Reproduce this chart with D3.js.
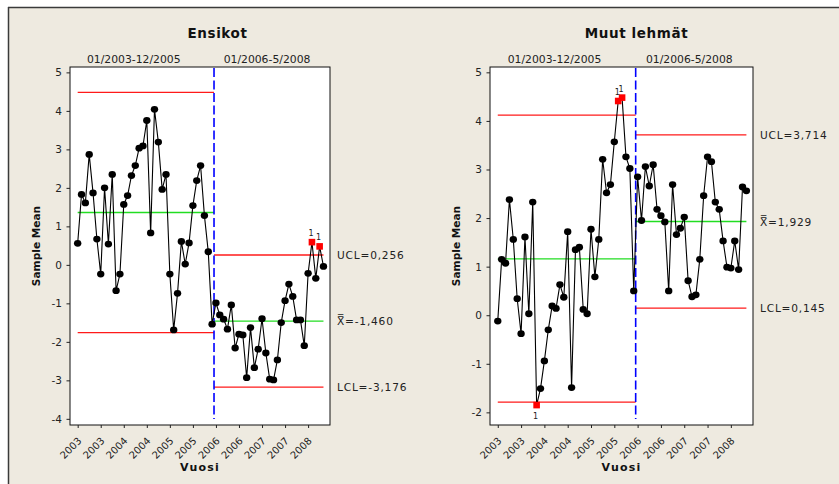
<!DOCTYPE html>
<html><head><meta charset="utf-8">
<script src="https://cdn.jsdelivr.net/npm/d3@7"></script>
<style>body{margin:0;background:#fff}svg{display:block}text{font-family:"DejaVu Sans",Verdana,sans-serif}</style>
</head><body>
<svg id="c" width="839" height="484"></svg>
<script>
// ---- data ----
const tickIndex = [0, 6, 12, 18, 24, 30, 36, 42, 48, 54, 60];
const tickLabels = ["2003","2003","2004","2004","2005","2005","2006","2006","2007","2007","2008"];
const stageLabels = ["01/2003-12/2005", "01/2006-5/2008"];
const stageSplit = 35.5;

const ensikot = [0.56,1.83,1.61,2.87,1.87,0.67,-0.24,2.00,0.54,2.35,-0.67,-0.24,1.57,1.80,2.32,2.58,3.03,3.09,3.75,0.83,4.04,3.19,1.96,2.35,-0.24,-1.69,-0.74,0.61,0.02,0.57,1.54,2.19,2.58,1.28,0.34,-1.54,
  -0.99,-1.30,-1.41,-1.67,-1.04,-2.16,-1.80,-1.82,-2.93,-1.63,-2.67,-2.19,-1.40,-2.29,-2.97,-2.99,-2.47,-1.50,-0.93,-0.50,-0.82,-1.43,-1.43,-2.10,-0.22,0.59,-0.35,0.48,-0.04];
const ensikotFlags = [61, 63];
const ensikotUCL = [4.48, 0.256];
const ensikotCL = [1.36, -1.460];
const ensikotLCL = [-1.76, -3.176];
const ensikotText = ["UCL=0,256", "X\u033F=-1,460", "LCL=-3,176"];
const ensikotYTicks = [-4,-3,-2,-1,0,1,2,3,4,5];

const muut = [-0.12,1.15,1.07,2.38,1.56,0.34,-0.38,1.61,0.03,2.33,-1.85,-1.51,-0.94,-0.30,0.19,0.14,0.63,0.37,1.72,-1.49,1.35,1.40,0.12,0.03,1.77,0.79,1.56,3.21,2.52,2.69,3.57,4.41,4.48,3.26,3.02,0.50,
  2.85,1.95,3.06,2.66,3.10,2.18,2.05,1.92,0.50,2.69,1.66,1.79,2.02,0.71,0.38,0.42,1.15,2.46,3.26,3.16,2.33,2.18,1.53,0.99,0.97,1.53,0.94,2.64,2.56];
const muutFlags = [10, 31, 32];
const muutUCL = [4.12, 3.714];
const muutCL = [1.16, 1.929];
const muutLCL = [-1.79, 0.145];
const muutText = ["UCL=3,714", "X\u033F=1,929", "LCL=0,145"];
const muutYTicks = [-2,-1,0,1,2,3,4,5];

// ---- layout ----
const panels = [
  {title:"Ensikot", values:ensikot, flags:ensikotFlags, ucl:ensikotUCL, cl:ensikotCL, lcl:ensikotLCL, text:ensikotText, yTicks:ensikotYTicks,
   x0:70, x1:330, yDomain:[-4.16, 5.14], titleX:217.5, ylabX:36},
  {title:"Muut lehmät", values:muut, flags:muutFlags, ucl:muutUCL, cl:muutCL, lcl:muutLCL, text:muutText, yTicks:muutYTicks,
   x0:490, x1:753, yDomain:[-2.26, 5.11], titleX:636.5, ylabX:456}
];
const plotTop = 67, plotBottom = 425;
const bg = "#EEEAE0";

const svg = d3.select("#c");
svg.append("rect").attr("x",8).attr("y",7.5).attr("width",831).attr("height",477).attr("fill",bg);
svg.append("line").attr("x1",8).attr("x2",839).attr("y1",7.5).attr("y2",7.5).attr("stroke","#3a3a3a").attr("stroke-width",1.5);
svg.append("line").attr("x1",8.5).attr("x2",8.5).attr("y1",7).attr("y2",484).attr("stroke","#3a3a3a").attr("stroke-width",1.5);

panels.forEach(p => {
  const g = svg.append("g");
  const x = d3.scaleLinear().domain([-2, 65.7]).range([p.x0, p.x1]);
  const y = d3.scaleLinear().domain(p.yDomain).range([plotBottom, plotTop]);
  const n = p.values.length - 1;

  g.append("rect").attr("x",p.x0).attr("y",plotTop).attr("width",p.x1-p.x0).attr("height",plotBottom-plotTop)
    .attr("fill","#fff").attr("stroke","#111").attr("stroke-width",1);

  const stages = [[0, stageSplit], [stageSplit, n]];
  stages.forEach((s, i) => {
    [[p.ucl[i],"#ff1a1a"],[p.lcl[i],"#ff1a1a"],[p.cl[i],"#22dd22"]].forEach(([v,c]) => {
      g.append("line").attr("x1",x(s[0])).attr("x2",x(s[1])).attr("y1",y(v)).attr("y2",y(v))
        .attr("stroke",c).attr("stroke-width",1.3);
    });
  });

  g.append("line").attr("x1",x(stageSplit)).attr("x2",x(stageSplit)).attr("y1",plotTop+1).attr("y2",plotBottom-6)
    .attr("stroke","#0000ff").attr("stroke-width",1.6).attr("stroke-dasharray","9,3.5");

  const line = d3.line().x((d,i)=>x(i)).y(d=>y(d));
  g.append("path").datum(p.values).attr("d",line).attr("fill","none").attr("stroke","#000").attr("stroke-width",1.1);

  g.selectAll("ellipse.pt").data(p.values.map((v,i)=>({v,i})).filter(d=>!p.flags.includes(d.i)))
    .join("ellipse").attr("class","pt").attr("cx",d=>x(d.i)).attr("cy",d=>y(d.v)).attr("rx",3.7).attr("ry",3.4).attr("fill","#000");
  const flagged = p.flags.map(i=>({i, v:p.values[i]}));
  g.selectAll("rect.fl").data(flagged).join("rect").attr("class","fl")
    .attr("x",d=>x(d.i)-3.3).attr("y",d=>y(d.v)-3.3).attr("width",6.6).attr("height",6.6).attr("fill","#ff0000");
  g.selectAll("text.fl").data(flagged).join("text").attr("class","fl")
    .attr("x",d=>x(d.i)-1).attr("y",d=>d.v > p.cl[d.i < stageSplit ? 0 : 1] ? y(d.v)-6 : y(d.v)+14)
    .attr("text-anchor","middle").attr("font-size",8).attr("fill","#222").text("1");

  const ya = d3.axisLeft(y).tickValues(p.yTicks).tickSize(3.5).tickPadding(4.5).tickFormat(d=>String(d));
  const yg = g.append("g").attr("transform",`translate(${p.x0},0)`).call(ya);
  yg.select(".domain").remove();
  yg.selectAll("text").attr("font-size",10.5).attr("fill","#222").attr("font-family","DejaVu Sans, sans-serif");
  yg.selectAll("line").attr("stroke","#222");

  const xa = d3.axisBottom(x).tickValues(tickIndex).tickSize(3).tickFormat("");
  const xg = g.append("g").attr("transform",`translate(0,${plotBottom})`).call(xa);
  xg.select(".domain").remove();
  xg.selectAll("line").attr("stroke","#222");
  g.selectAll("text.xt").data(tickIndex).join("text").attr("class","xt")
    .attr("transform",(d)=>`translate(${x(d)+2},${plotBottom+14}) rotate(-45)`)
    .attr("text-anchor","end").attr("dy","0.35em").attr("font-size",10).attr("fill","#222")
    .text((d,i)=>tickLabels[i]);

  g.append("text").attr("x",p.titleX).attr("y",38).attr("text-anchor","middle").attr("font-size",13.5)
    .attr("font-weight","bold").attr("letter-spacing",0.6).attr("fill","#111").text(p.title);
  g.append("text").attr("x",x(14.6)).attr("y",63).attr("text-anchor","middle").attr("font-size",10.8)
    .attr("fill","#222").text(stageLabels[0]);
  g.append("text").attr("x",x(49.3)).attr("y",63).attr("text-anchor","middle").attr("font-size",10.8)
    .attr("fill","#222").text(stageLabels[1]);
  g.append("text").attr("x",(p.x0+p.x1)/2).attr("y",471).attr("text-anchor","middle").attr("font-size",11)
    .attr("font-weight","bold").attr("letter-spacing",1.2).attr("fill","#111").text("Vuosi");
  g.append("text").attr("transform",`translate(${p.ylabX},${(plotTop+plotBottom)/2}) rotate(-90)`).attr("text-anchor","middle")
    .attr("dy","0.35em").attr("font-size",10.6).attr("font-weight","bold").attr("fill","#111").text("Sample Mean");

  [p.ucl[1], p.cl[1], p.lcl[1]].forEach((v,i) => {
    g.append("text").attr("x",p.x1+7).attr("y",y(v)).attr("dy","0.38em").attr("font-size",10.6)
      .attr("letter-spacing",0.8).attr("fill","#222").text(p.text[i]);
  });
});
</script>
</body></html>
